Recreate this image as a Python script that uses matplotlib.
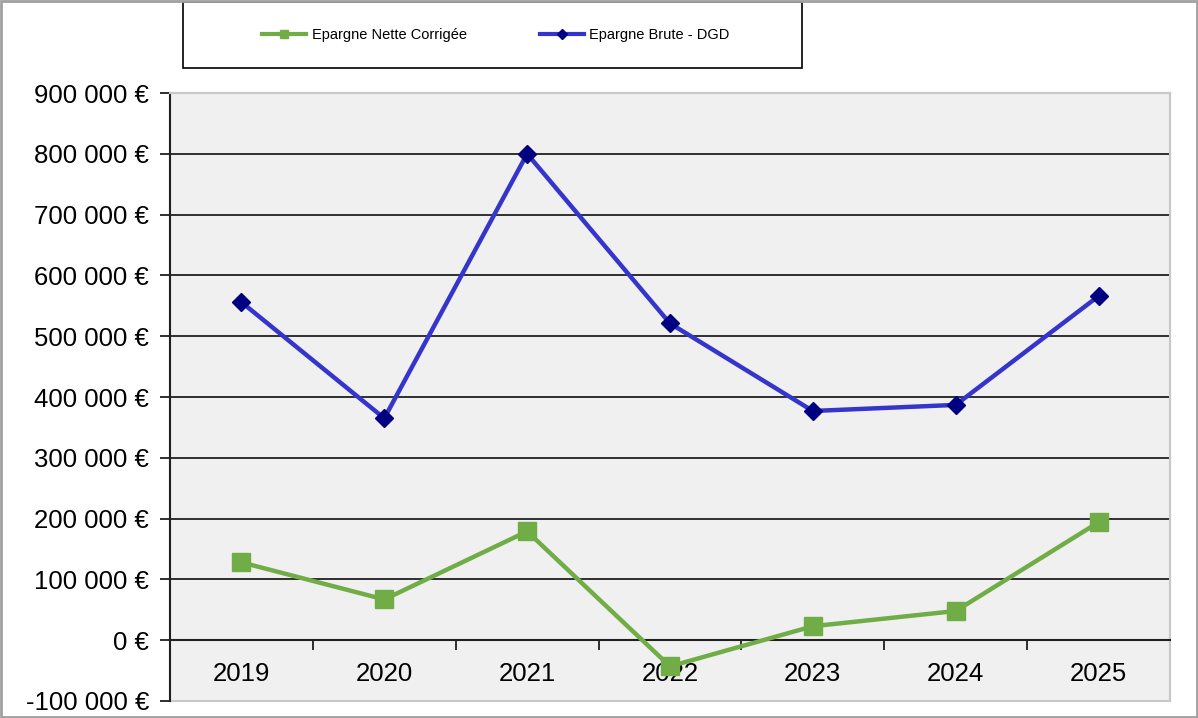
import matplotlib
matplotlib.use("Agg")
import matplotlib.pyplot as plt
from matplotlib.patches import Rectangle
from matplotlib.lines import Line2D

years = ["2019", "2020", "2021", "2022", "2023", "2024", "2025"]
epargne_nette = [128000, 67000, 179000, -43000, 23000, 48000, 194000]
epargne_brute = [556000, 365000, 800000, 521000, 377000, 387000, 566000]
y_ticks = list(range(-100000, 900001, 100000))

plt.rcParams['font.family'] = ['Liberation Sans', 'DejaVu Sans']

W, H = 1198, 718
fig = plt.figure(figsize=(W / 100, H / 100), dpi=100)
fig.patch.set_facecolor('white')

ax = fig.add_axes([170 / W, 1 - 701 / H, 1000 / W, 608 / H])
ax.set_facecolor('#F0F0F0')
ax.set_xlim(-0.5, len(years) - 0.5)
ax.set_ylim(y_ticks[0], y_ticks[-1])

# borders
for s in ['top', 'right']:
    ax.spines[s].set_color('#C8C8C8')
    ax.spines[s].set_linewidth(1.5)
ax.spines['left'].set_color('#202020')
ax.spines['left'].set_linewidth(1.5)
ax.spines['bottom'].set_position(('data', 0))
ax.spines['bottom'].set_color('#202020')
ax.spines['bottom'].set_linewidth(1.5)
ax.add_patch(Rectangle((0, 0), 1, 1, transform=ax.transAxes, fill=False,
                       edgecolor='#C8C8C8', linewidth=1.5, zorder=0.5, clip_on=False))

for v in y_ticks[1:-1]:
    if v != 0:
        ax.axhline(v, color='#202020', linewidth=1.3, zorder=1)

def fmt(v):
    s = f"{abs(v):,}".replace(",", " ")
    return ("-" if v < 0 else "") + s + " €"

ax.set_yticks(y_ticks)
ax.set_yticklabels([fmt(v) for v in y_ticks], fontsize=18.5)
ax.tick_params(axis='y', direction='out', length=7, width=1.3, color='#202020', pad=8)

x = list(range(len(years)))
ax.set_xticks([i - 0.5 for i in range(len(years) + 1)])
ax.set_xticklabels([])
ax.tick_params(axis='x', which='major', direction='out', length=7, width=1.3, color='#202020')
ax.set_xticks(x, minor=True)
ax.set_xticklabels(years, minor=True, fontsize=18.5)
ax.tick_params(axis='x', which='minor', length=0, pad=16)

ax.plot(x, epargne_nette, color='#70AD47', linewidth=3.2, marker='s',
        markersize=13, markerfacecolor='#70AD47', markeredgecolor='#70AD47', zorder=3)
ax.plot(x, epargne_brute, color='#3535CC', linewidth=3.2, marker='D',
        markersize=9.5, markerfacecolor='#000080', markeredgecolor='#000080', zorder=3)

# legend box
fig.patches.append(Rectangle((183 / W, 1 - 68 / H), 619 / W, 66 / H, transform=fig.transFigure,
                             fill=False, edgecolor='black', linewidth=1.2))
handles = [Line2D([], [], color='#70AD47', linewidth=3, marker='s', markersize=6),
           Line2D([], [], color='#3535CC', linewidth=3, marker='D', markersize=5,
                  markerfacecolor='#000080', markeredgecolor='#000080')]
fig.legend(handles, ["Epargne Nette Corrigée", "Epargne Brute - DGD"], ncol=2,
           loc='center', bbox_to_anchor=(496 / W, 1 - 35 / H), frameon=False,
           fontsize=10.5, handlelength=3, columnspacing=5, handletextpad=0.4)

# outer border
fig.patches.append(Rectangle((0.001, 0.001), 0.998, 0.998, transform=fig.transFigure,
                             fill=False, edgecolor='#A0A0A0', linewidth=2))

fig.savefig('out.png', dpi=100)
